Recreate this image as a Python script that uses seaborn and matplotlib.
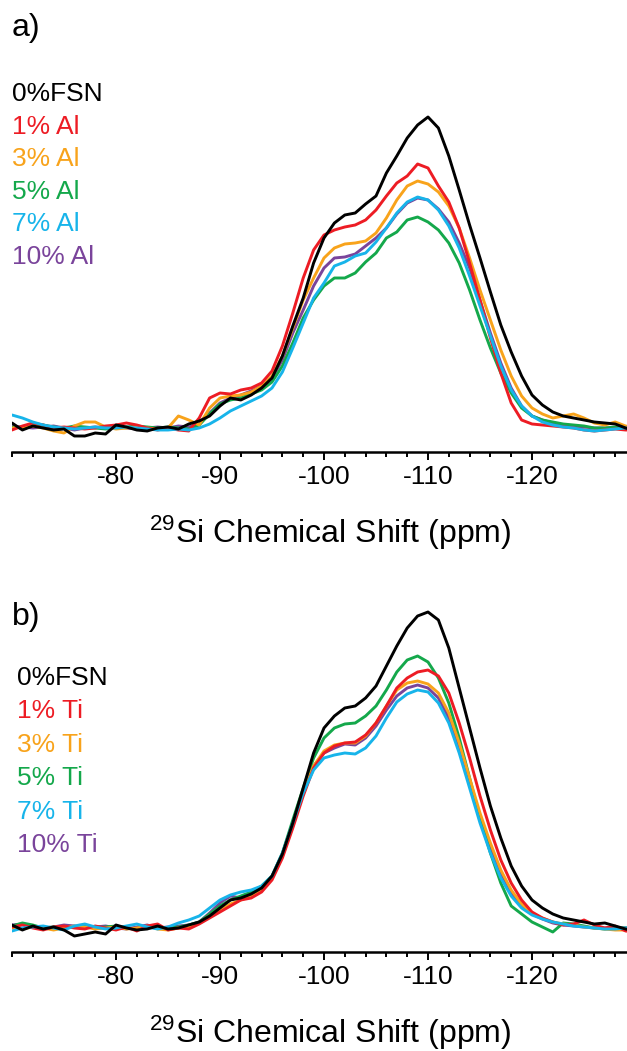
import numpy as np
import pandas as pd
import matplotlib
matplotlib.use("Agg")
import matplotlib.pyplot as plt
import seaborn as sns
from matplotlib.ticker import MultipleLocator

# chemical shift grid (ppm)
shift = [-70, -71, -72, -73, -74, -75, -76, -77, -78, -79,
         -80, -81, -82, -83, -84, -85, -86, -87, -88, -89,
         -90, -91, -92, -93, -94, -95, -96, -97, -98, -99,
         -100, -101, -102, -103, -104, -105, -106, -107, -108, -109,
         -110, -111, -112, -113, -114, -115, -116, -117, -118, -119,
         -120, -121, -122, -123, -124, -125, -126, -127, -128, -129, -130]

# ---- panel a (Al) intensities, a.u. ----
a_0fsn = [5, -2, 2, 0, -2, -1, -8, -8, -5, -6,
          3, 1, -2, -3, 0, 1, -1, 4, 7, 12,
          22, 30, 28, 33, 40, 50, 72, 102, 130, 165,
          190, 205, 213, 215, 224, 232, 255, 272, 290, 303,
          311, 300, 272, 238, 203, 170, 136, 103, 76, 52,
          33, 23, 16, 12, 10, 8, 6, 5, 4, 0, -3]
a_1 = [-2, 2, 5, 3, 0, 1, 0, -1, 0, 2,
       3, 5, 3, 0, -2, 0, -2, -3, 10, 30,
       35, 34, 38, 40, 45, 57, 82, 115, 150, 178,
       193, 198, 201, 203, 208, 218, 232, 245, 252, 264,
       260, 242, 226, 200, 165, 128, 90, 55, 25, 8,
       4, 3, 2, 1, 0, -2, -3, -2, -1, -2, -2]
a_3 = [0, 1, 2, 0, -3, -5, 2, 6, 6, 1,
       -1, 0, 1, 0, -1, 0, 12, 8, 3, 20,
       30, 32, 33, 36, 42, 52, 72, 100, 128, 150,
       170, 180, 184, 185, 187, 195, 210, 228, 242, 247,
       244, 236, 222, 200, 170, 138, 108, 78, 52, 32,
       20, 14, 10, 12, 14, 10, 5, 3, 6, 2, 0]
a_5 = [1, 0, 2, 3, 1, 0, 2, 1, 0, -1,
       0, 1, 2, 1, 0, 1, 0, -1, 3, 14,
       24, 28, 30, 34, 38, 46, 62, 85, 110, 128,
       142, 150, 150, 155, 166, 175, 190, 196, 208, 211,
       206, 198, 185, 165, 138, 108, 80, 55, 35, 20,
       12, 8, 6, 4, 3, 2, 0, 0, 1, 0, 0]
a_7 = [13, 10, 6, 3, 1, 0, -1, 0, 1, 0,
       0, 1, 0, -1, -2, -2, -1, -2, 0, 4,
       10, 17, 22, 27, 32, 40, 56, 80, 105, 130,
       145, 162, 166, 172, 175, 186, 200, 215, 226, 231,
       228, 218, 202, 180, 152, 122, 92, 62, 38, 22,
       12, 6, 3, 1, 0, -2, -3, -2, -1, 0, 0]
a_10 = [2, 1, 0, 1, 2, 0, -2, 0, 1, 0,
        1, 0, -1, 0, 1, 0, 2, 1, 4, 15,
        25, 30, 33, 37, 42, 50, 68, 95, 118, 142,
        160, 170, 171, 174, 182, 190, 200, 214, 225, 230,
        228, 219, 206, 185, 160, 128, 95, 65, 40, 22,
        12, 8, 5, 3, 2, 1, 0, 0, 0, 0, 0]

# ---- panel b (Ti) intensities, a.u. ----
b_0fsn = [3, -2, 2, -1, 1, -2, -8, -6, -4, -6,
          3, 0, -2, -1, 2, -1, 0, 3, 6, 12,
          20, 28, 30, 34, 40, 52, 74, 105, 140, 175,
          200, 212, 220, 222, 230, 242, 262, 282, 300, 312,
          316, 308, 280, 240, 200, 160, 122, 90, 62, 42,
          28, 20, 14, 10, 8, 6, 4, 5, 2, -1, -3]
b_1 = [1, 3, 0, -2, 1, 2, 0, -1, 2, 0,
       -2, 1, -3, 2, 4, -2, 0, -1, 4, 10,
       16, 22, 28, 30, 36, 48, 70, 100, 132, 160,
       175, 182, 185, 186, 193, 205, 222, 240, 250, 256,
       258, 252, 235, 205, 170, 132, 98, 68, 45, 28,
       16, 10, 6, 3, 4, 8, 3, 0, 2, -3, -4]
b_3 = [0, -1, 1, 0, -2, 0, 2, 1, -1, 0,
       1, -1, 0, 2, -1, -2, 0, 1, 5, 12,
       18, 24, 28, 32, 38, 50, 72, 102, 135, 162,
       177, 183, 185, 185, 192, 205, 222, 238, 245, 247,
       244, 235, 215, 185, 150, 115, 85, 58, 38, 24,
       15, 10, 6, 4, 3, 1, 0, -1, -2, -2, -2]
b_5 = [2, 5, 3, 0, 1, 0, 1, 2, 0, 1,
       2, 0, -1, 0, 1, 0, 1, 3, 6, 14,
       22, 28, 32, 36, 42, 52, 75, 108, 140, 170,
       190, 200, 204, 205, 212, 222, 238, 256, 268, 272,
       266, 250, 225, 190, 150, 110, 75, 45, 22, 14,
       6, 1, -4, 5, 4, 2, 0, -1, 0, 0, 0]
b_7 = [-3, 0, 1, 2, 0, -2, 2, 4, 1, -1,
       0, 2, 4, 1, -1, 1, 5, 8, 12, 20,
       28, 33, 36, 38, 42, 52, 75, 105, 135, 158,
       170, 173, 175, 174, 180, 192, 210, 226, 234, 238,
       236, 225, 205, 175, 140, 105, 75, 50, 32, 20,
       13, 9, 6, 4, 2, 1, 0, -1, -1, 0, 0]
b_10 = [3, 4, 2, 0, 1, 3, 2, 0, 1, 2,
        0, -1, 1, 3, 0, 1, 2, 3, 6, 15,
        25, 32, 30, 32, 38, 50, 74, 105, 138, 162,
        175, 180, 184, 183, 190, 202, 218, 232, 240, 243,
        240, 230, 210, 180, 145, 110, 80, 55, 35, 22,
        14, 9, 5, 3, 2, 1, 0, 0, 0, 0, 0]

labels_a = ["0%FSN", "1% Al", "3% Al", "5% Al", "7% Al", "10% Al"]
labels_b = ["0%FSN", "1% Ti", "3% Ti", "5% Ti", "7% Ti", "10% Ti"]
colors = ["#000000", "#ED1C24", "#F8A31B", "#14A84B", "#17B4EA", "#7A449B"]

series_a = [a_0fsn, a_1, a_3, a_5, a_7, a_10]
series_b = [b_0fsn, b_1, b_3, b_5, b_7, b_10]
draw_order = [5, 3, 2, 1, 4, 0]

sns.set_theme(style="white")
plt.rcParams["font.family"] = ["Liberation Sans", "DejaVu Sans"]
plt.rcParams["axes.unicode_minus"] = False
plt.rcParams["mathtext.default"] = "regular"

W, H = 627, 1051
fig = plt.figure(figsize=(W / 100, H / 100), dpi=100)


def px_axes(spine_y, top_y):
    left = 12 / W
    width = (12 + 60 * 10.4) / W - left
    bottom = (H - spine_y) / H
    height = (spine_y - top_y) / H
    return fig.add_axes([left, bottom, width, height])


def draw_panel(ax, series, labels, tag, spine_y, legend_x, tag_y, legend_y0, legend_dy):
    rows = []
    for i in draw_order:
        for s, v in zip(shift, series[i]):
            rows.append({"shift": s, "intensity": v, "sample": labels[i]})
    df = pd.DataFrame(rows)
    for i in draw_order:
        sub = df[df["sample"] == labels[i]]
        sns.lineplot(data=sub, x="shift", y="intensity", color=colors[i],
                     lw=2.1, ax=ax, sort=False, estimator=None, legend=False,
                     solid_joinstyle="round", solid_capstyle="round")
    ax.set_xlim(-70, -130)
    ax.set_ylim(-24, 348)
    ax.set_xlabel("")
    ax.set_ylabel("")
    ax.set_yticks([])
    for sp in ["top", "right", "left"]:
        ax.spines[sp].set_visible(False)
    ax.spines["bottom"].set_linewidth(1.8)
    ax.spines["bottom"].set_color("black")
    ax.xaxis.set_minor_locator(MultipleLocator(2))
    ax.tick_params(axis="x", which="major", direction="out", length=6, width=1.4,
                   labelsize=19, pad=3, colors="black", bottom=True)
    ax.tick_params(axis="x", which="minor", direction="out", length=3.5, width=1.4,
                   bottom=True, colors="black")
    ax.set_xticks([-80, -90, -100, -110, -120])
    ax.set_xticklabels(["-80", "-90", "-100", "-110", "-120"])
    ax.patch.set_alpha(0)
    # panel tag and legend text
    fig.text(12 / W, 1 - tag_y / H, tag, fontsize=23, va="center", ha="left", color="black")
    for k, (lab, col) in enumerate(zip(labels, colors)):
        fig.text(legend_x / W, 1 - (legend_y0 + k * legend_dy) / H, lab, fontsize=19,
                 va="center", ha="left", color=col)
    fig.text(330 / W, 1 - (spine_y + 81) / H,
             r"$^{29}$Si Chemical Shift (ppm)", fontsize=23, ha="center", va="center",
             color="black")


ax_a = px_axes(452, 80)
draw_panel(ax_a, series_a, labels_a, "a)", 452, 12, 28, 94, 32.6)
ax_b = px_axes(952, 580)
draw_panel(ax_b, series_b, labels_b, "b)", 952, 17, 617, 678, 33.4)

fig.savefig("out.png", dpi=100)
